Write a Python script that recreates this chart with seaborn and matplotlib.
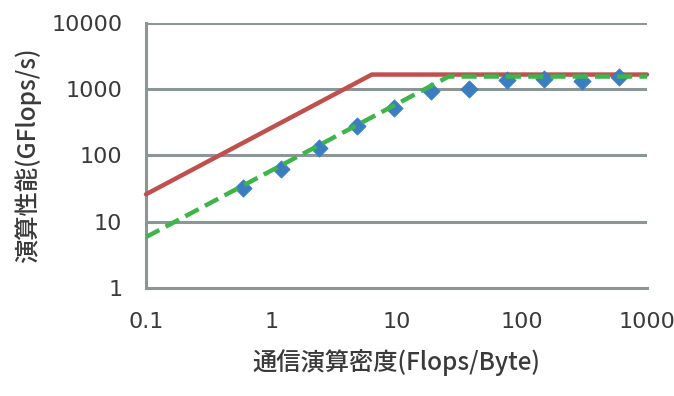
import matplotlib
matplotlib.use("Agg")
import matplotlib.pyplot as plt
import seaborn as sns
import pandas as pd
from matplotlib.ticker import FixedLocator, FixedFormatter, NullLocator

# Data
peak_x = [0.1, 6.35, 1000]
peak_y = [26, 1650, 1650]
model_x = [0.1, 26, 1000]
model_y = [5.9, 1540, 1540]
meas_x = [0.6, 1.2, 2.4, 4.8, 9.6, 19, 38, 76, 150, 300, 600]
meas_y = [32, 62, 129, 275, 526, 920, 1010, 1380, 1420, 1320, 1530]
xticks = [0.1, 1, 10, 100, 1000]
xtick_labels = ["0.1", "1", "10", "100", "1000"]
yticks = [1, 10, 100, 1000, 10000]
ytick_labels = ["1", "10", "100", "1000", "10000"]
xlabel = "通信演算密度(Flops/Byte)"
ylabel = "演算性能(GFlops/s)"

sns.set_style("white")
plt.rcParams['font.family'] = ['Noto Sans CJK JP', 'DejaVu Sans']

fig = plt.figure(figsize=(6.74, 3.96), dpi=100)
ax = fig.add_axes([0.2166, 0.272, 0.7434, 0.671])

grid_c = "#8C9696"
text_c = "#3A3A3A"
ax.set_xscale("log")
ax.set_yscale("log")
ax.set_xlim(0.1, 1000)
ax.set_ylim(1, 10000)

for y in yticks[1:]:
    ax.axhline(y, color=grid_c, lw=2.2, zorder=1)

peak = pd.DataFrame({"x": peak_x, "y": peak_y})
model = pd.DataFrame({"x": model_x, "y": model_y})
meas = pd.DataFrame({"x": meas_x, "y": meas_y})

sns.lineplot(data=peak, x="x", y="y", ax=ax, color="#C0504D", lw=3.2, zorder=3, sort=False, clip_on=False)
sns.scatterplot(data=meas, x="x", y="y", ax=ax, marker="D", s=75, color="#3A7DC0", edgecolor="#3A7DC0", zorder=4)
sns.lineplot(data=model, x="x", y="y", ax=ax, color="#3DB54A", lw=3.2, zorder=5, sort=False)
ax.lines[-1].set_dashes([3.4, 1.6])

ax.xaxis.set_major_locator(FixedLocator(xticks))
ax.xaxis.set_major_formatter(FixedFormatter(xtick_labels))
ax.yaxis.set_major_locator(FixedLocator(yticks))
ax.yaxis.set_major_formatter(FixedFormatter(ytick_labels))
ax.xaxis.set_minor_locator(NullLocator())
ax.yaxis.set_minor_locator(NullLocator())

for s in ["top", "right"]:
    ax.spines[s].set_visible(False)
for s in ["left", "bottom"]:
    ax.spines[s].set_color(grid_c)
    ax.spines[s].set_linewidth(2.2)

ax.tick_params(axis="both", which="major", direction="out", length=7, width=2,
               color=grid_c, labelsize=16, labelcolor=text_c, pad=10)
for lab in ax.get_xticklabels() + ax.get_yticklabels():
    lab.set_family(['DejaVu Sans'])

ax.set_xlabel(xlabel, fontsize=17.5, color=text_c, labelpad=12, weight="medium")
ax.set_ylabel(ylabel, fontsize=17.5, color=text_c, labelpad=7, weight="medium")

fig.savefig("out.png", dpi=100)
